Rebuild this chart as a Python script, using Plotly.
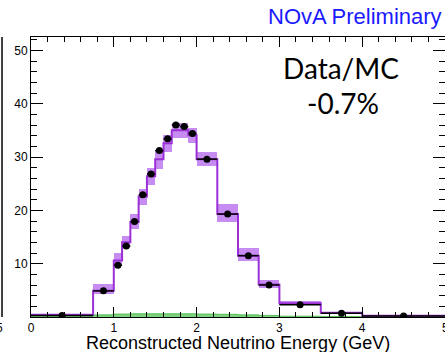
import plotly.graph_objects as go

# Bin edges (GeV)
bin_edges = [0.0, 0.75, 1.0, 1.1, 1.2, 1.3, 1.4, 1.5, 1.6, 1.7, 1.8, 1.9, 2.0,
             2.25, 2.5, 2.75, 3.0, 3.5, 4.0, 5.0]
# MC prediction
mc_values = [0.4, 4.9, 10.6, 14.0, 17.8, 22.6, 26.4, 29.6, 32.6, 35.0, 35.0, 34.1,
             29.6, 19.3, 11.5, 6.1, 2.6, 0.8, 0.25]
mc_band_low = [0.3, 4.4, 9.8, 12.9, 16.5, 21.0, 24.7, 27.8, 30.9, 33.6, 33.6, 32.6,
               28.4, 17.8, 10.5, 5.5, 2.3, 0.6, 0.15]
mc_band_high = [0.5, 6.2, 12.0, 15.2, 19.3, 24.0, 28.0, 31.4, 34.2, 36.4, 36.4, 35.5,
                31.0, 21.1, 12.9, 6.9, 3.0, 1.0, 0.35]
# Data
data_values = [0.3, 4.9, 9.7, 13.3, 17.9, 22.9, 26.8, 31.2, 33.4, 36.0, 35.7, 34.4,
               29.6, 19.3, 11.5, 6.0, 2.3, 0.7, 0.2]
# Background
bkg_values = [0.15, 0.4, 0.55, 0.55, 0.6, 0.6, 0.6, 0.6, 0.6, 0.6, 0.6, 0.6,
              0.55, 0.5, 0.4, 0.3, 0.15, 0.08, 0.03]

x_ticks = [0, 1, 2, 3, 4]
y_ticks = [10, 20, 30, 40, 50]

centers = [(a + b) / 2 for a, b in zip(bin_edges[:-1], bin_edges[1:])]
widths = [b - a for a, b in zip(bin_edges[:-1], bin_edges[1:])]
half_widths = [w / 2 for w in widths]

fig = go.Figure()

# Background (green)
fig.add_trace(go.Scatter(
    x=bin_edges, y=bkg_values + [bkg_values[-1]], mode="lines", line_shape="hv",
    line=dict(color="#55c055", width=1), fill="tozeroy", fillcolor="#7fd27f",
    showlegend=False))

# MC systematic band
fig.add_trace(go.Bar(
    x=centers, base=mc_band_low, y=[h - l for h, l in zip(mc_band_high, mc_band_low)],
    width=widths, marker=dict(color="#c68cf2", line=dict(width=0)), showlegend=False))

# MC line
fig.add_trace(go.Scatter(
    x=bin_edges, y=mc_values + [mc_values[-1]], mode="lines", line_shape="hv",
    line=dict(color="#9b30d6", width=2), showlegend=False))

# Data points
fig.add_trace(go.Scatter(
    x=centers, y=data_values, mode="markers",
    marker=dict(color="black", size=7),
    error_x=dict(type="data", array=half_widths, width=0, color="black", thickness=1.5),
    showlegend=False))

axis_common = dict(showline=True, linecolor="black", linewidth=1, mirror="ticks",
                   ticks="inside", tickcolor="black", showgrid=False, zeroline=False,
                   automargin=False,
                   tickfont=dict(family="Liberation Sans, Arial", size=12, color="black"))

fig.update_xaxes(range=[0, 5], tickvals=x_ticks, ticklen=10,
                 minor=dict(ticks="inside", dtick=0.2, ticklen=5, tickcolor="black"),
                 **axis_common)
fig.update_yaxes(range=[0, 52.5], tickvals=y_ticks, ticklen=12,
                 minor=dict(ticks="inside", dtick=2, ticklen=6, tickcolor="black"),
                 **axis_common)

fig.update_layout(
    width=445, height=352, margin=dict(l=31, r=0, t=37, b=35),
    plot_bgcolor="white", paper_bgcolor="white", bargap=0, barmode="overlay",
    annotations=[
        dict(text="Reconstructed Neutrino Energy (GeV)", xref="paper", yref="paper",
             x=0.5, y=0.0, xanchor="center", yanchor="top", yshift=-14, showarrow=False,
             font=dict(family="Liberation Sans, Arial", size=18, color="black")),
        dict(text="NOvA Preliminary", xref="paper", yref="paper", x=0.997, y=1.0,
             xanchor="right", yanchor="bottom", yshift=6, showarrow=False,
             font=dict(family="Liberation Sans, Arial", size=22, color="#1a1aff")),
        dict(text="Data/MC", xref="paper", yref="paper", x=0.749, y=0.89,
             xanchor="center", yanchor="middle", showarrow=False,
             font=dict(family="Lato, DejaVu Sans", size=28, color="black")),
        dict(text="-0.7%", xref="paper", yref="paper", x=0.754, y=0.765,
             xanchor="center", yanchor="middle", showarrow=False,
             font=dict(family="Lato, DejaVu Sans", size=28, color="black")),
        dict(text="5", xref="x", yref="paper", x=5, y=0.0,
             xanchor="center", yanchor="top", yshift=-2, showarrow=False,
             font=dict(family="Liberation Sans, Arial", size=12, color="black")),
        dict(text="5", xref="paper", yref="paper", x=-0.075, y=0.0,
             xanchor="center", yanchor="top", yshift=-2, showarrow=False,
             font=dict(family="Liberation Sans, Arial", size=12, color="black")),
    ],
    shapes=[dict(type="line", xref="paper", yref="paper", x0=-0.07, x1=-0.07,
                 y0=0, y1=1, line=dict(color="black", width=1.5))],
)

fig.write_html("out.html", config={"displayModeBar": False},
               post_script="document.body.style.margin='0px';document.body.style.overflow='hidden';")
